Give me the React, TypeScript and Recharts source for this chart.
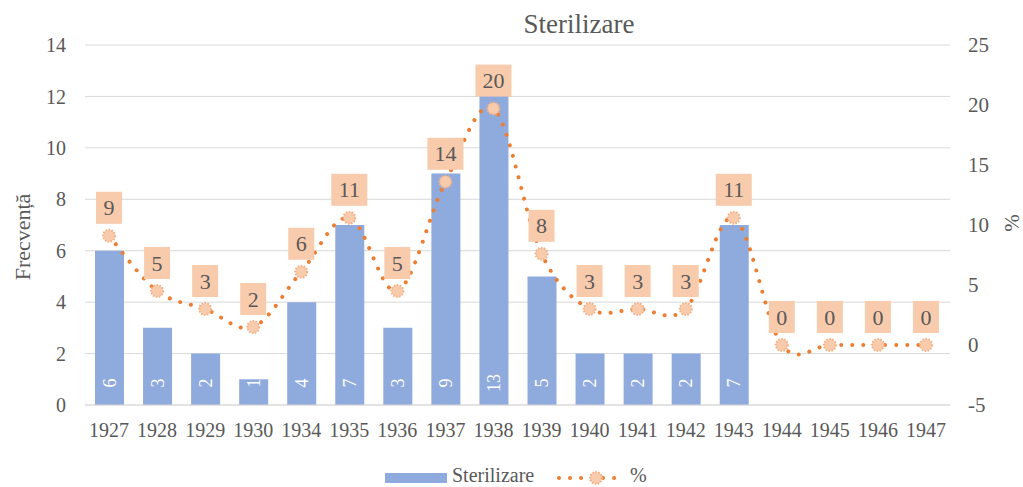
import React from "react";
import { ComposedChart, Bar, Line, XAxis, YAxis, CartesianGrid, LabelList } from "recharts";

const years = ["1927", "1928", "1929", "1930", "1934", "1935", "1936", "1937", "1938", "1939", "1940", "1941", "1942", "1943", "1944", "1945", "1946", "1947"];
const frecventa = [6, 3, 2, 1, 4, 7, 3, 9, 13, 5, 2, 2, 2, 7, 0, 0, 0, 0];
const procent = [9.1, 4.5, 3.0, 1.5, 6.1, 10.6, 4.5, 13.6, 19.7, 7.6, 3.0, 3.0, 3.0, 10.6, 0, 0, 0, 0];
const leftTicks = [0, 2, 4, 6, 8, 10, 12, 14];
const rightTicks = [-5, 0, 5, 10, 15, 20, 25];

const data = years.map((an, i) => ({ an, frecventa: frecventa[i], procent: procent[i] }));

const FONT = "'Times New Roman', 'Liberation Serif', serif";
const TXT = "#595959";
const BAR = "#8FAADC";
const ORANGE = "#ED7D31";
const PEACH = "#F8CBAD";

// Excel-like smoothing (Catmull-Rom as cubic bezier)
const excelSmooth = (context: any) => {
  let pts: number[][] = [];
  return {
    areaStart() {},
    areaEnd() {},
    lineStart() {
      pts = [];
    },
    point(x: number, y: number) {
      pts.push([+x, +y]);
    },
    lineEnd() {
      if (!pts.length) return;
      context.moveTo(pts[0][0], pts[0][1]);
      for (let i = 0; i < pts.length - 1; i++) {
        const p0 = pts[i - 1] || pts[i];
        const p1 = pts[i];
        const p2 = pts[i + 1];
        const p3 = pts[i + 2] || pts[i + 1];
        context.bezierCurveTo(
          p1[0] + (p2[0] - p0[0]) / 6,
          p1[1] + (p2[1] - p0[1]) / 6,
          p2[0] - (p3[0] - p1[0]) / 6,
          p2[1] - (p3[1] - p1[1]) / 6,
          p2[0],
          p2[1]
        );
      }
    },
  };
};

const Marker = (props: any) => {
  const { cx, cy, index } = props;
  if (cx == null || cy == null) return <g key={index} />;
  return <circle key={index} cx={cx} cy={cy} r={6} fill={PEACH} stroke="#F4B183" strokeWidth={2} strokeDasharray="1.5 1.5" />;
};

const PctLabel = (props: any) => {
  const { x, y, value } = props;
  const txt = String(Math.round(Number(value)));
  const w = txt.length > 1 ? 36 : 26;
  const h = 32;
  return (
    <g>
      <rect x={x - w / 2} y={y - 12 - h} width={w} height={h} fill={PEACH} />
      <text x={x} y={y - 12 - h / 2} textAnchor="middle" dominantBaseline="central" fill={TXT} fontSize={22} fontFamily={FONT}>
        {txt}
      </text>
    </g>
  );
};

const BarLabel = (props: any) => {
  const { x, y, width, height, value } = props;
  if (!value) return null;
  const cx = Number(x) + Number(width) / 2;
  const cy = Number(y) + Number(height) - 22;
  return (
    <text x={cx} y={cy} transform={`rotate(-90 ${cx} ${cy})`} textAnchor="middle" dominantBaseline="central" fill="#FFFFFF" fontSize={18} fontFamily={FONT}>
      {value}
    </text>
  );
};

export default function App() {
  const tick = { fill: TXT, fontSize: 20, fontFamily: FONT };
  return (
    <div style={{ position: "absolute", left: 0, top: 0, width: 1023, height: 487, background: "#fff", fontFamily: FONT }}>
      <ComposedChart width={1023} height={487} data={data} margin={{ top: 45, right: 0, bottom: 52, left: 0 }}>
        <CartesianGrid yAxisId="left" vertical={false} stroke="#D9D9D9" strokeWidth={1} />
        <XAxis dataKey="an" tick={tick} tickLine={false} axisLine={{ stroke: "#D9D9D9" }} tickMargin={12} height={30} interval={0} />
        <YAxis yAxisId="left" domain={[0, 14]} ticks={leftTicks} tick={tick} tickLine={false} axisLine={false} tickMargin={13} width={85} />
        <YAxis yAxisId="right" orientation="right" domain={[-5, 25]} ticks={rightTicks} tick={{ ...tick, fontSize: 21, textAnchor: "start" }} tickLine={false} axisLine={false} tickMargin={12} width={73} />
        <Bar yAxisId="left" dataKey="frecventa" fill={BAR} barSize={29} isAnimationActive={false}>
          <LabelList dataKey="frecventa" content={BarLabel} />
        </Bar>
        <Line
          yAxisId="right"
          dataKey="procent"
          type={excelSmooth as any}
          stroke={ORANGE}
          strokeWidth={4}
          strokeLinecap="round"
          strokeDasharray="0.01 11"
          dot={Marker}
          activeDot={false}
          isAnimationActive={false}
        >
          <LabelList dataKey="procent" content={PctLabel} />
        </Line>
      </ComposedChart>
      <svg width={1023} height={487} style={{ position: "absolute", left: 0, top: 0, pointerEvents: "none" }}>
        <text x={579} y={33} textAnchor="middle" fill={TXT} fontSize={27} fontFamily={FONT}>
          Sterilizare
        </text>
        <text x={22} y={237} transform="rotate(-90 22 237)" textAnchor="middle" dominantBaseline="central" fill={TXT} fontSize={22} fontFamily={FONT}>
          Frecvență
        </text>
        <text x={1012} y={223} transform="rotate(-90 1012 223)" textAnchor="middle" dominantBaseline="central" fill={TXT} fontSize={21} fontFamily={FONT}>
          %
        </text>
        <rect x={385} y={473} width={62} height={10} fill={BAR} />
        <text x={452} y={482} fill={TXT} fontSize={20} fontFamily={FONT}>
          Sterilizare
        </text>
        <line x1={559} y1={478} x2={625} y2={478} stroke={ORANGE} strokeWidth={4} strokeLinecap="round" strokeDasharray="0.01 11" />
        <circle cx={596} cy={478} r={6} fill={PEACH} stroke="#F4B183" strokeWidth={2} strokeDasharray="1.5 1.5" />
        <text x={630} y={482} fill={TXT} fontSize={20} fontFamily={FONT}>
          %
        </text>
      </svg>
    </div>
  );
}
